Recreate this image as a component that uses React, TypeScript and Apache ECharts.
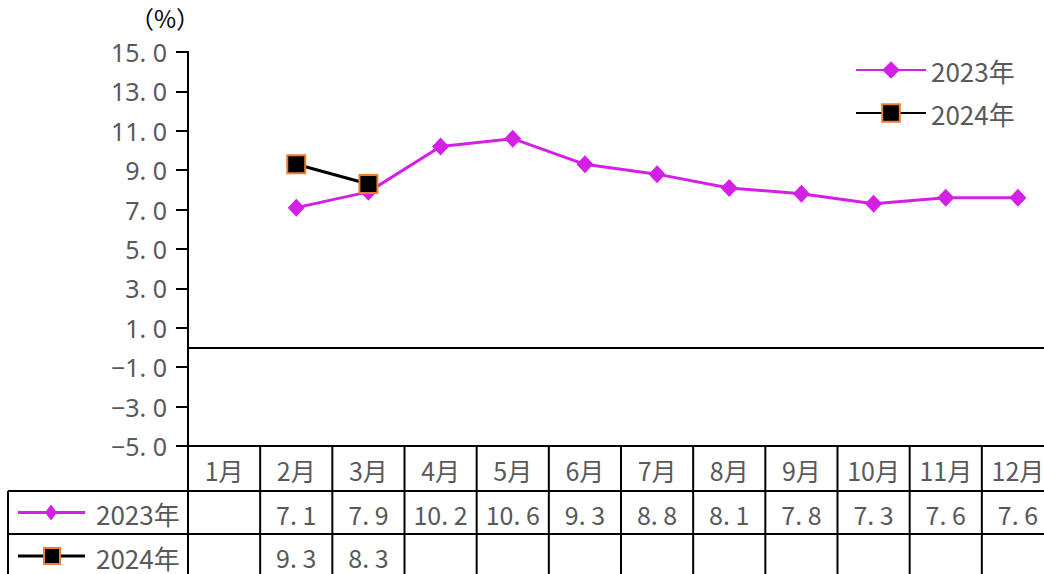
import React, { useEffect, useRef } from "react";
import * as echarts from "echarts";

const months = ["1月", "2月", "3月", "4月", "5月", "6月", "7月", "8月", "9月", "10月", "11月", "12月"];
const seriesNames = ["2023年", "2024年"];
const values2023: (number | null)[] = [null, 7.1, 7.9, 10.2, 10.6, 9.3, 8.8, 8.1, 7.8, 7.3, 7.6, 7.6];
const values2024: (number | null)[] = [null, 9.3, 8.3, null, null, null, null, null, null, null, null, null];
const yTicks = [-5, -3, -1, 1, 3, 5, 7, 9, 11, 13, 15];

const FONT = "'Noto Sans CJK SC', 'Noto Sans', sans-serif";
const NUM_FONT = "'Noto Sans', 'Noto Sans CJK SC', sans-serif";
const TEXT = "#595959";
const MAGENTA = "#D41FE6";
const ORANGE = "#ED7D31";

const fmt = (v: number) => v.toFixed(1).replace("-", "−").replace(".", ". ");

export default function App() {
  const ref = useRef<HTMLDivElement>(null);
  useEffect(() => {
    const chart = echarts.init(ref.current!, null, { renderer: "svg" });
    chart.setOption({
      animation: false,
      backgroundColor: "#ffffff",
      grid: { left: 188, top: 52, width: 866, height: 394, containLabel: false, outerBoundsMode: "none" },
      legend: {
        orient: "vertical",
        left: 855,
        top: 55,
        padding: 0,
        itemWidth: 70,
        itemHeight: 22,
        itemGap: 13,
        data: seriesNames,
        textStyle: { fontFamily: FONT, fontSize: 26, lineHeight: 30, color: TEXT },
      },
      xAxis: {
        type: "category",
        data: months,
        boundaryGap: true,
        axisLine: { onZero: true, lineStyle: { color: "#000", width: 2 } },
        axisTick: { show: false },
        axisLabel: { show: false },
        splitLine: { show: false },
      },
      yAxis: {
        type: "value",
        min: yTicks[0],
        max: yTicks[yTicks.length - 1],
        name: "（%）",
        nameLocation: "end",
        nameGap: 23,
        nameTextStyle: {
          fontFamily: FONT,
          fontSize: 24,
          lineHeight: 24,
          color: "#000",
          align: "center",
          padding: [0, 46, 0, 0],
        },
        axisLine: { show: true, onZero: false, lineStyle: { color: "#000", width: 2 } },
        axisTick: { show: true, length: 12, customValues: yTicks, lineStyle: { color: "#000", width: 2 } },
        axisLabel: {
          customValues: yTicks,
          margin: 21,
          fontFamily: NUM_FONT,
          fontSize: 25,
          lineHeight: 22,
          color: TEXT,
          formatter: (v: number) => fmt(v),
        },
        splitLine: { show: false },
      },
      series: [
        {
          name: seriesNames[0],
          type: "line",
          data: values2023,
          symbol: "diamond",
          symbolSize: [17, 18],
          lineStyle: { color: MAGENTA, width: 3 },
          itemStyle: { color: MAGENTA },
          connectNulls: false,
          z: 2,
        },
        {
          name: seriesNames[1],
          type: "line",
          data: values2024,
          symbol: "rect",
          symbolSize: 18,
          lineStyle: { color: "#000", width: 3 },
          itemStyle: { color: "#000", borderColor: ORANGE, borderWidth: 2 },
          z: 3,
        },
      ],
    });

    const xc = months.map((_, i) => chart.convertToPixel({ xAxisIndex: 0 }, i) as number);
    const band = xc[1] - xc[0];
    const leftX = xc[0] - band / 2;
    const rightX = xc[xc.length - 1] + band / 2;
    const yTop = chart.convertToPixel({ yAxisIndex: 0 }, yTicks[0]) as number;
    const rows = [yTop, yTop + 45, yTop + 88, yTop + 132];
    const tableLeft = 8;
    const ls = { stroke: "#000", lineWidth: 2 };
    const els: any[] = [];
    els.push({ type: "line", shape: { x1: leftX, y1: rows[0], x2: rightX, y2: rows[0] }, style: ls, silent: true });
    els.push({ type: "line", shape: { x1: tableLeft, y1: rows[1], x2: rightX, y2: rows[1] }, style: ls, silent: true });
    els.push({ type: "line", shape: { x1: tableLeft, y1: rows[2], x2: rightX, y2: rows[2] }, style: ls, silent: true });
    els.push({ type: "line", shape: { x1: tableLeft, y1: rows[3], x2: rightX, y2: rows[3] }, style: ls, silent: true });
    els.push({ type: "line", shape: { x1: tableLeft, y1: rows[1], x2: tableLeft, y2: rows[3] }, style: ls, silent: true });
    for (let i = 0; i <= months.length; i++) {
      const x = leftX + band * i;
      els.push({ type: "line", shape: { x1: x, y1: rows[0], x2: x, y2: rows[3] }, style: ls, silent: true });
    }
    const cellText = (x: number, y: number, text: string) => ({
      type: "text",
      x,
      y,
      style: { text, fontFamily: FONT, fontSize: 25, fill: TEXT, align: "center", verticalAlign: "middle" },
      silent: true,
    });
    months.forEach((m, i) => {
      els.push(cellText(xc[i], (rows[0] + rows[1]) / 2 + 1, m));
      if (values2023[i] != null) els.push(cellText(xc[i], (rows[1] + rows[2]) / 2 + 1, fmt(values2023[i] as number)));
      if (values2024[i] != null) els.push(cellText(xc[i], (rows[2] + rows[3]) / 2 + 1, fmt(values2024[i] as number)));
    });
    const r1 = (rows[1] + rows[2]) / 2;
    const r2 = (rows[2] + rows[3]) / 2;
    els.push({ type: "line", shape: { x1: 18, y1: r1, x2: 85, y2: r1 }, style: { stroke: MAGENTA, lineWidth: 3 }, silent: true });
    els.push({ type: "polygon", shape: { points: [[51, r1 - 8], [57, r1], [51, r1 + 8], [45, r1]] }, style: { fill: MAGENTA }, silent: true });
    els.push({ type: "line", shape: { x1: 18, y1: r2, x2: 85, y2: r2 }, style: { stroke: "#000", lineWidth: 3 }, silent: true });
    els.push({ type: "rect", shape: { x: 44, y: r2 - 8, width: 16, height: 16 }, style: { fill: "#000", stroke: ORANGE, lineWidth: 2 }, silent: true });
    const legText = (y: number, text: string) => ({
      type: "text",
      x: 96,
      y,
      style: { text, fontFamily: FONT, fontSize: 26, fill: TEXT, align: "left", verticalAlign: "middle" },
      silent: true,
    });
    els.push(legText(r1 + 1, seriesNames[0]));
    els.push(legText(r2 + 1, seriesNames[1]));
    chart.setOption({ graphic: { elements: els } });
    return () => chart.dispose();
  }, []);
  return <div ref={ref} style={{ position: "fixed", left: 0, top: 0, width: 1044, height: 574 }} />;
}
